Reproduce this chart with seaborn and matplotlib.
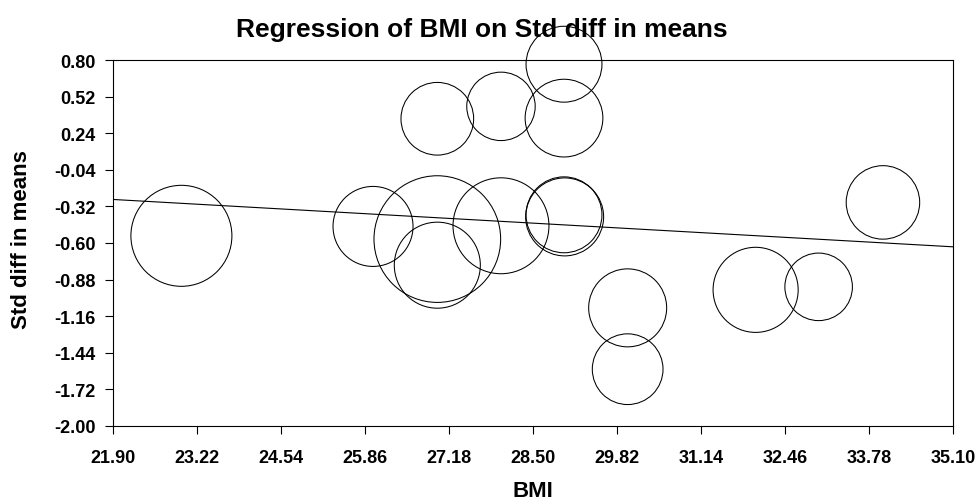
import numpy as np
import pandas as pd
import seaborn as sns
import matplotlib.pyplot as plt

# study values
bmi = [22.98, 25.99, 27.00, 27.00, 27.00, 28.00, 28.00, 28.99, 28.99,
       28.99, 29.00, 29.99, 29.99, 32.00, 32.99, 34.00]
std_diff = [-0.545, -0.473, -0.570, -0.770, 0.352, 0.447, -0.468, 0.770, 0.357,
            -0.384, -0.400, -1.097, -1.567, -0.959, -0.936, -0.289]
# relative study weights (bubble area)
weight = [25.5, 16.0, 40.1, 18.5, 13.2, 11.7, 23.0, 14.4, 15.1,
          14.4, 15.2, 15.2, 12.5, 18.1, 11.4, 13.5]

# fitted meta-regression line
intercept = 0.336
slope = -0.0275

x_ticks = [21.90, 23.22, 24.54, 25.86, 27.18, 28.50, 29.82, 31.14, 32.46, 33.78, 35.10]
y_ticks = [0.80, 0.52, 0.24, -0.04, -0.32, -0.60, -0.88, -1.16, -1.44, -1.72, -2.00]

df = pd.DataFrame({"BMI": bmi, "Std diff in means": std_diff, "weight": weight})

sns.set_style("white")
plt.rcParams["font.family"] = ["Liberation Sans", "DejaVu Sans"]
plt.rcParams["font.weight"] = "bold"
plt.rcParams["text.color"] = "black"
plt.rcParams["xtick.color"] = "black"
plt.rcParams["ytick.color"] = "black"

fig = plt.figure(figsize=(9.77, 5.02), dpi=100)
ax = fig.add_axes([0.1153, 0.150, 0.8601, 0.7279])

sns.scatterplot(data=df, x="BMI", y="Std diff in means", ax=ax,
                s=df["weight"] * 207.4, facecolor="none", edgecolor="black",
                linewidth=0.75, clip_on=False, zorder=3, legend=False)

xl = np.array([x_ticks[0], x_ticks[-1]])
ax.plot(xl, intercept + slope * xl, color="black", linewidth=0.8, zorder=2)

ax.set_xlim(x_ticks[0], x_ticks[-1])
ax.set_ylim(y_ticks[-1], y_ticks[0])
ax.set_xticks(x_ticks)
ax.set_yticks(y_ticks)
ax.set_xticklabels([f"{v:.2f}" for v in x_ticks], fontsize=13, fontweight="bold")
ax.set_yticklabels([f"{v:.2f}" for v in y_ticks], fontsize=13, fontweight="bold")
ax.tick_params(axis="both", direction="out", length=6, width=0.8, color="black",
               labelcolor="black", bottom=True, left=True)
ax.tick_params(axis="y", pad=6)
ax.tick_params(axis="x", pad=11)

for sp in ax.spines.values():
    sp.set_color("black")
    sp.set_linewidth(0.8)

ax.set_xlabel("")
ax.set_ylabel("")
fig.text(0.5455, 0.009, "BMI", ha="center", va="baseline", fontsize=16, fontweight="bold")
fig.text(0.0225, 0.522, "Std diff in means", ha="center", va="center",
         rotation=90, fontsize=16, fontweight="bold")
fig.text(0.4935, 0.941, "Regression of BMI on Std diff in means", ha="center",
         va="center", fontsize=19, fontweight="bold")

fig.savefig("out.png", dpi=100, facecolor="white")
